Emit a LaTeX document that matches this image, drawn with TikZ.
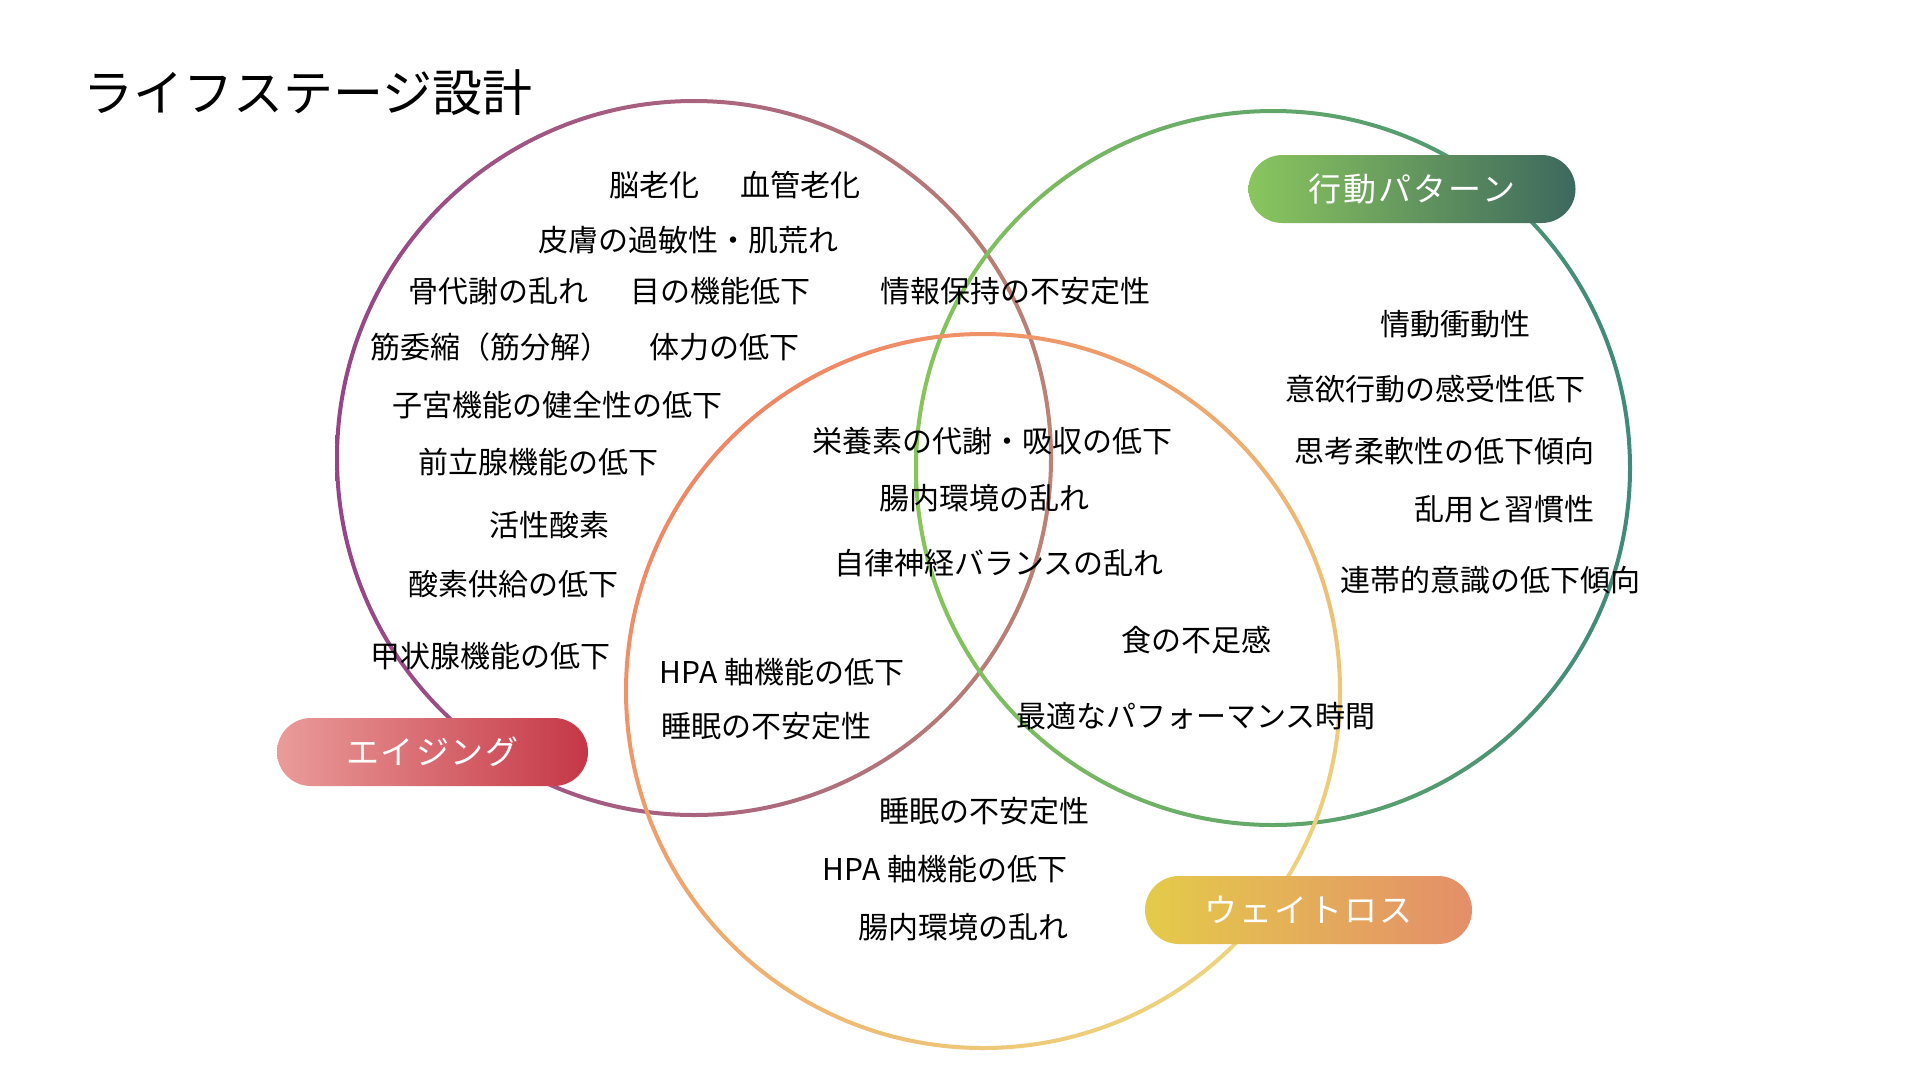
\documentclass[tikz,border=0pt]{standalone}
\usepackage{fontspec}
\setmainfont{Noto Sans CJK JP}
\newfontfamily\pillfont[LetterSpace=6]{Noto Sans CJK JP}
\definecolor{agL}{HTML}{964588}
\definecolor{agR}{HTML}{BC8274}
\definecolor{grL}{HTML}{86C55A}
\definecolor{grR}{HTML}{3F8A7A}
\definecolor{orT}{HTML}{F08764}
\definecolor{orB}{HTML}{EED27C}
\definecolor{pAgL}{HTML}{EA9C9A}
\definecolor{pAgR}{HTML}{C53746}
\definecolor{pGrL}{HTML}{8AC65E}
\definecolor{pGrR}{HTML}{3D685E}
\definecolor{pWlL}{HTML}{E4CB4A}
\definecolor{pWlR}{HTML}{E48E6A}
\begin{document}
\begin{tikzpicture}[x=1pt,y=-1pt,
  item/.style={font=\fontsize{30}{36}\selectfont, inner sep=0pt, anchor=center, text=black},
  titletext/.style={font=\fontsize{50}{60}\selectfont, inner sep=0pt, anchor=west},
  pill/.style={rounded corners=34pt, minimum width=327pt, minimum height=68pt, inner sep=0pt,
    text=white, font=\pillfont\fontsize{33}{40}\selectfont},
  ring/.style={even odd rule}]
\useasboundingbox (0,0) rectangle (1920,1080);
\fill[white] (0,0) rectangle (1920,1080);
\coordinate (ca) at (694,458);
\coordinate (cg) at (1273,468);
\coordinate (co) at (983,691);
% circles
\shade[ring, left color=agL, right color=agR] (ca) circle[radius=359pt] (ca) circle[radius=355pt];
\shade[ring, left color=grL, right color=grR] (cg) circle[radius=359pt] (cg) circle[radius=355pt];
\shade[ring, top color=orT, bottom color=orB, shading angle=45] (co) circle[radius=359pt] (co) circle[radius=355pt];
% title
\node[titletext] (title) at (83,93) {ライフステージ設計};
% pills
\node[pill, minimum width=311pt, left color=pAgL, right color=pAgR] (paging) at (432.5,752) {エイジング};
\node[pill, left color=pGrL, right color=pGrR] (pbeh) at (1412,189) {行動パターン};
\node[pill, left color=pWlL, right color=pWlR] (pwl) at (1308.5,910) {ウェイトロス};
% aging items
\node[item] (a1) at (654,185) {脳老化};
\node[item] (a2) at (800,185) {血管老化};
\node[item] (a3) at (688,240) {皮膚の過敏性・肌荒れ};
\node[item] (a4) at (498,291) {骨代謝の乱れ};
\node[item] (a5) at (720,291) {目の機能低下};
\node[item] (a6) at (1015,291) {情報保持の不安定性};
\node[item] (a7) at (490,347) {筋委縮（筋分解）};
\node[item] (a8) at (724,347) {体力の低下};
\node[item] (a9) at (557,405) {子宮機能の健全性の低下};
\node[item] (a10) at (538,462) {前立腺機能の低下};
\node[item] (a11) at (549,525) {活性酸素};
\node[item] (a12) at (513,584) {酸素供給の低下};
\node[item] (a13) at (490,656) {甲状腺機能の低下};
% centre items
\node[item] (c1) at (992,441) {栄養素の代謝・吸収の低下};
\node[item] (c2) at (984,498) {腸内環境の乱れ};
\node[item] (c3) at (999,563) {自律神経バランスの乱れ};
\node[item] (c4) at (782,672) {HPA 軸機能の低下};
\node[item] (c5) at (766,726) {睡眠の不安定性};
\node[item] (c6) at (1196,640) {食の不足感};
\node[item] (c7) at (1196,716) {最適なパフォーマンス時間};
% bottom items
\node[item] (w1) at (984,811) {睡眠の不安定性};
\node[item] (w2) at (945,869) {HPA 軸機能の低下};
\node[item] (w3) at (963,927) {腸内環境の乱れ};
% behaviour items
\node[item] (b1) at (1455,324) {情動衝動性};
\node[item] (b2) at (1435,389) {意欲行動の感受性低下};
\node[item] (b3) at (1444,451) {思考柔軟性の低下傾向};
\node[item] (b4) at (1504,509) {乱用と習慣性};
\node[item] (b5) at (1490,580) {連帯的意識の低下傾向};
\end{tikzpicture}
\end{document}
